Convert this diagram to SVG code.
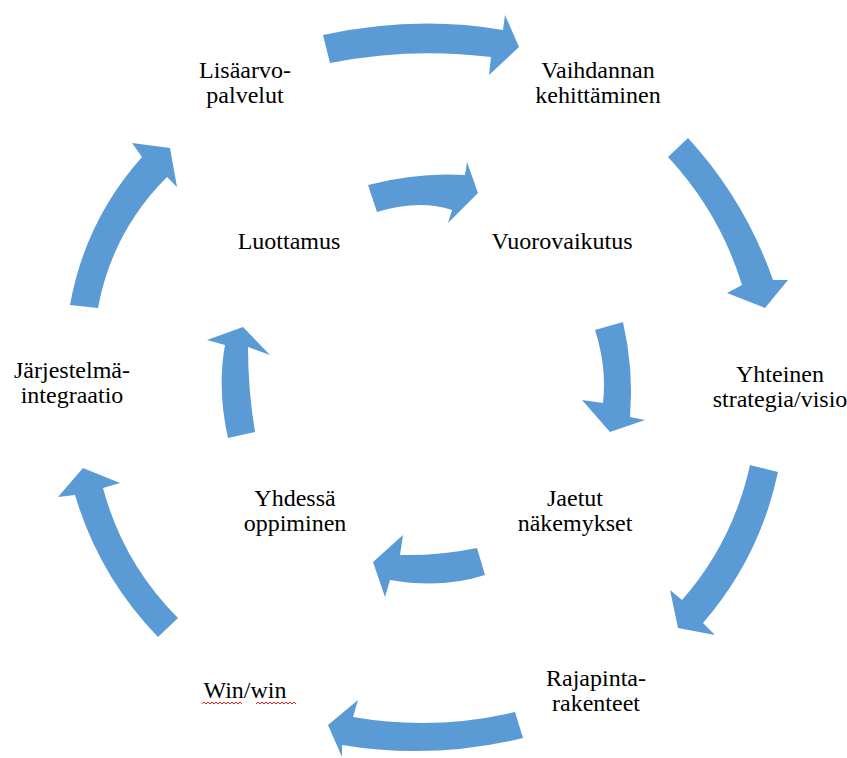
<svg xmlns="http://www.w3.org/2000/svg" width="847" height="758" viewBox="0 0 847 758">
<style>
.arr{fill:#5B9BD5;stroke:none}
.lbl{font-size:24px;fill:#000;text-anchor:middle}
.sq{fill:none;stroke:#E02020;stroke-width:1}
</style>
<rect width="847" height="758" fill="#fff"/>
<g id="connectors">
<path class="arr" d="M323,35 Q415,15 503,30 L505,15 L519,47 L489,75 L491,57 Q410,47 330,63 Z"/>
<path class="arr" d="M668,157 L688,138 Q745,200 773,280 L788,280 L765,308 L727,293 L742,285 Q720,213 668,157 Z"/>
<path class="arr" d="M750,465 L778,472 Q760,557 703,623 L715,635 L678,628 L670,590 L682,600 Q733,542 750,465 Z"/>
<path class="arr" d="M515,712 Q434,731 353,717 L358,700 L328,725 L342,757 L342,745 Q432,760 523,738 Z"/>
<path class="arr" d="M158,637 Q99,576 75,495 L58,497 L83,468 L120,483 L103,488 Q123,563 178,618 Z"/>
<path class="arr" d="M70,305 Q85,221 142,157 L132,143 L170,148 L177,187 L167,177 Q112,232 98,308 Z"/>
<path class="arr" d="M368,185 Q417,172 465,175 L467,162 L478,193 L448,223 L452,210 Q419,199 377,212 Z"/>
<path class="arr" d="M595,330 L623,322 Q634,370 630,417 L645,420 L610,432 L582,400 L603,403 Q607,367 595,330 Z"/>
<path class="arr" d="M477,548 Q438,556 400,555 L403,535 L373,562 L385,597 L390,580 Q442,589 485,575 Z"/>
<path class="arr" d="M228,438 Q217,389 225,345 L207,340 L243,327 L270,355 L248,347 Q248,390 255,432 Z"/>
</g>
<g font-family="Liberation Serif, DejaVu Serif, serif">
<g id="n-lisaarvo"><text class="lbl" x="245" y="78">Lisäarvo-</text><text class="lbl" x="245" y="103">palvelut</text></g>
<g id="n-vaihdannan"><text class="lbl" x="598" y="78">Vaihdannan</text><text class="lbl" x="598" y="103">kehittäminen</text></g>
<g id="n-luottamus"><text class="lbl" x="289" y="249">Luottamus</text></g>
<g id="n-vuorovaikutus"><text class="lbl" x="562" y="249">Vuorovaikutus</text></g>
<g id="n-yhteinen"><text class="lbl" x="780" y="382">Yhteinen</text><text class="lbl" x="780" y="407">strategia/visio</text></g>
<g id="n-jarjestelma"><text class="lbl" x="72" y="378">Järjestelmä-</text><text class="lbl" x="72" y="403">integraatio</text></g>
<g id="n-jaetut"><text class="lbl" x="575" y="506">Jaetut</text><text class="lbl" x="575" y="531">näkemykset</text></g>
<g id="n-yhdessa"><text class="lbl" x="295" y="506">Yhdessä</text><text class="lbl" x="295" y="531">oppiminen</text></g>
<g id="n-rajapinta"><text class="lbl" x="596" y="686">Rajapinta-</text><text class="lbl" x="596" y="711">rakenteet</text></g>
<g id="n-winwin"><text class="lbl" x="245" y="698">Win/win</text>
<path class="sq" d="M202,704 l2,-2 l2,2 l2,-2 l2,2 l2,-2 l2,2 l2,-2 l2,2 l2,-2 l2,2 l2,-2 l2,2 l2,-2 l2,2 l2,-2 l2,2 l2,-2 l2,2 l2,-2 l2,2"/>
<path class="sq" d="M256,704 l2,-2 l2,2 l2,-2 l2,2 l2,-2 l2,2 l2,-2 l2,2 l2,-2 l2,2 l2,-2 l2,2 l2,-2 l2,2 l2,-2 l2,2 l2,-2 l2,2 l2,-2 l2,2"/>
</g>
</g>
</svg>
